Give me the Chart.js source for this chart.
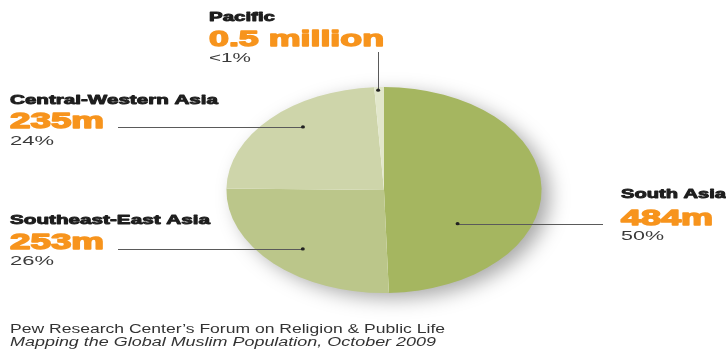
<!DOCTYPE html>
<html>
<head>
<meta charset="utf-8">
<script src="https://cdn.jsdelivr.net/npm/chart.js@4"></script>
<style>
  html, body { margin: 0; padding: 0; background: #fff; }
  #wrap { width: 726px; height: 349px; }
</style>
</head>
<body>
<div id="wrap"><canvas id="myChart" width="726" height="349"></canvas></div>
<script>
// データ
const regions = ['South Asia', 'Southeast-East Asia', 'Central-Western Asia', 'Pacific'];
const populations = ['484m', '253m', '235m', '0.5 million'];
const shareLabels = ['50%', '26%', '24%', '<1%'];
const shares = [50, 26, 24, 1]; // 扇形の大きさ（表示上の割合）
const sliceColors = ['#a5b660', '#bbc68a', '#ced5aa', '#e2e7cb'];

const sourceLines = [
    "Pew Research Center\u2019s Forum on Religion & Public Life",
    'Mapping the Global Muslim Population, October 2009'
];

// ラベル配置（x, 各行のベースライン, 幅）
const labelLayout = [
    { x: 621, y: [198, 225, 240], w: [105, 92, 43], dot: { ang: 125, r: 0.57 }, lineTo: [603, null] },
    { x: 10,  y: [224, 249, 265], w: [200, 94, 44], dot: { ang: 222, r: 0.77 }, lineTo: [118, null] },
    { x: 10,  y: [104, 128, 145], w: [208, 94, 44], dot: { ang: 320, r: 0.80 }, lineTo: [118, null] },
    { x: 209, y: [21, 46, 62],    w: [66, 175, 42], dot: { ang: 357.8, r: 0.97 }, lineTo: [null, 52] }
];

const stretchX = 1.53; // 元画像は横に引き伸ばされている

// 幅に合わせて文字を描く（heavy は太さを足す）
function drawFit(ctx, text, x, y, font, color, width, heavy) {
    ctx.font = font;
    const w = ctx.measureText(text).width;
    ctx.save();
    ctx.translate(x, y);
    ctx.scale(width / w, 1);
    ctx.fillStyle = color;
    ctx.textBaseline = 'alphabetic';
    ctx.textAlign = 'left';
    ctx.fillText(text, 0, 0);
    if (heavy) {
        ctx.strokeStyle = color;
        ctx.lineWidth = heavy;
        ctx.lineJoin = 'round';
        ctx.strokeText(text, 0, 0);
    }
    ctx.restore();
}

const ellipsePlugin = {
    id: 'ellipse',
    beforeDatasetsDraw(chart) {
        const ctx = chart.ctx;
        const arc = chart.getDatasetMeta(0).data[0];
        const cx = arc.x, cy = arc.y, r = arc.outerRadius;
        // 影
        ctx.save();
        ctx.shadowColor = 'rgba(0,0,0,0.35)';
        ctx.shadowBlur = 20;
        ctx.shadowOffsetX = 9;
        ctx.shadowOffsetY = 6;
        ctx.fillStyle = '#ffffff';
        ctx.beginPath();
        ctx.ellipse(cx, cy, r * stretchX - 1, r - 1, 0, 0, Math.PI * 2);
        ctx.fill();
        ctx.restore();
        // 横方向に引き伸ばす
        ctx.save();
        ctx.translate(cx, 0);
        ctx.scale(stretchX, 1);
        ctx.translate(-cx, 0);
    },
    afterDatasetsDraw(chart) {
        const ctx = chart.ctx;
        ctx.restore();
        const arc = chart.getDatasetMeta(0).data[0];
        const cx = arc.x, cy = arc.y, r = arc.outerRadius;

        labelLayout.forEach((l, i) => {
            const a = l.dot.ang * Math.PI / 180;
            const dx = cx + Math.sin(a) * r * l.dot.r * stretchX;
            const dy = cy - Math.cos(a) * r * l.dot.r;
            const ex = l.lineTo[0] !== null ? l.lineTo[0] : dx;
            const ey = l.lineTo[1] !== null ? l.lineTo[1] : dy;
            ctx.save();
            ctx.strokeStyle = '#5a5a5a';
            ctx.lineWidth = 1;
            ctx.beginPath();
            ctx.moveTo(Math.round(dx) + 0.5 * (ex === dx), Math.round(dy) + 0.5 * (ey === dy));
            ctx.lineTo(Math.round(ex) + 0.5 * (ex === dx), Math.round(ey) + 0.5 * (ey === dy));
            ctx.stroke();
            ctx.fillStyle = '#222';
            ctx.beginPath();
            ctx.ellipse(dx, dy, 2, 1.6, 0, 0, Math.PI * 2);
            ctx.fill();
            ctx.restore();

            drawFit(ctx, regions[i], l.x, l.y[0], 'bold 13px "Liberation Sans"', '#1e1e1e', l.w[0], 0.9);
            drawFit(ctx, populations[i], l.x, l.y[1], 'bold 22px "Liberation Sans"', '#f7941d', l.w[1], 1.4);
            drawFit(ctx, shareLabels[i], l.x, l.y[2], '13px "Liberation Sans"', '#3a3a3a', l.w[2], 0);
        });

        drawFit(ctx, sourceLines[0], 10, 333, '12px "Liberation Sans"', '#333', 435, 0);
        drawFit(ctx, sourceLines[1], 10, 346, 'italic 12px "Liberation Sans"', '#333', 426, 0);
    }
};

const ctx = document.getElementById('myChart').getContext('2d');
const myChart = new Chart(ctx, {
    type: 'pie',
    data: {
        labels: regions,
        datasets: [{
            data: shares,
            backgroundColor: sliceColors,
            borderWidth: 0,
            clip: false
        }]
    },
    options: {
        responsive: false,
        animation: false,
        devicePixelRatio: 1,
        layout: {
            padding: { top: 87, bottom: 56, left: 281, right: 239 }
        },
        plugins: {
            legend: { display: false },
            tooltip: { enabled: false },
            title: { display: false }
        }
    },
    plugins: [ellipsePlugin]
});
</script>
</body>
</html>
